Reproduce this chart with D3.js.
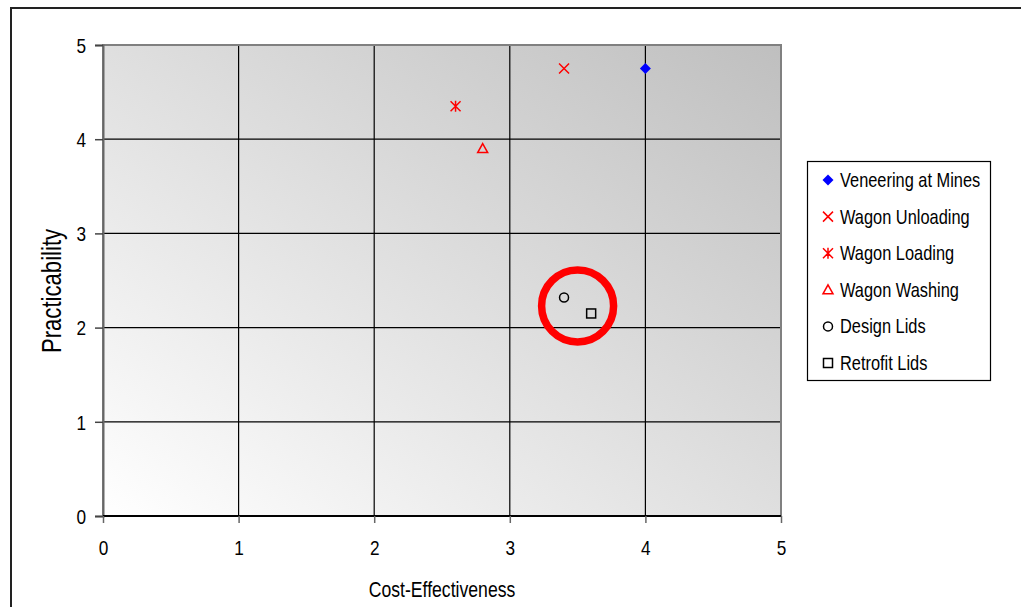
<!DOCTYPE html>
<html><head><meta charset="utf-8">
<script src="https://cdn.jsdelivr.net/npm/d3@7"></script>
<style>body{margin:0;background:#fff}svg{display:block}text{font-family:"Liberation Sans Narrow","Liberation Sans",Arial,sans-serif;fill:#000}</style>
</head><body><svg id="c" width="1021" height="607"></svg>
<script>
const seriesNames = ["Veneering at Mines","Wagon Unloading","Wagon Loading","Wagon Washing","Design Lids","Retrofit Lids"];
const costEffectiveness = [4.0, 3.4, 2.6, 2.8, 3.4, 3.6];
const practicability = [4.75, 4.75, 4.35, 3.9, 2.32, 2.15];
const xTicks = [0,1,2,3,4,5];
const yTicks = [0,1,2,3,4,5];
const highlight = {x: 3.5, y: 2.23};

const NS = 0.82; // narrow horizontal scale
const svg = d3.select("#c");
svg.append("rect").attr("x",11).attr("y",8).attr("width",1030).attr("height",620)
  .attr("fill","#fff").attr("stroke","#222").attr("stroke-width",2);

const x = d3.scaleLinear().domain([0,5]).range([103,781]);
const y = d3.scaleLinear().domain([0,5]).range([516,45]);

const defs = svg.append("defs");
const g = defs.append("linearGradient").attr("id","bg").attr("x1","0").attr("y1","1").attr("x2","1").attr("y2","0");
g.append("stop").attr("offset","0").attr("stop-color","#ffffff");
g.append("stop").attr("offset","1").attr("stop-color","#bfbfbf");

svg.append("rect").attr("x",x(0)).attr("y",y(5)).attr("width",x(5)-x(0)).attr("height",y(0)-y(5)).attr("fill","url(#bg)");

svg.append("g").selectAll("line").data(xTicks.filter(d=>d>0&&d<5)).join("line")
  .attr("x1",d=>x(d)).attr("x2",d=>x(d)).attr("y1",y(5)).attr("y2",y(0)).attr("stroke","#000").attr("stroke-width",1.2);
svg.append("g").selectAll("line").data(yTicks.filter(d=>d>0&&d<5)).join("line")
  .attr("y1",d=>y(d)).attr("y2",d=>y(d)).attr("x1",x(0)).attr("x2",x(5)).attr("stroke","#000").attr("stroke-width",1.2);
svg.append("rect").attr("x",x(0)).attr("y",y(5)).attr("width",x(5)-x(0)).attr("height",y(0)-y(5))
  .attr("fill","none").attr("stroke","#808080").attr("stroke-width",2);

const yAxis = svg.append("g").attr("transform",`translate(${x(0)},0)`)
  .call(d3.axisLeft(y).tickValues(yTicks).tickSize(8).tickPadding(9).tickFormat(d3.format("d")));
yAxis.select(".domain").attr("stroke","#666").attr("stroke-width",2);
yAxis.selectAll(".tick line").attr("stroke","#444").attr("stroke-width",1.5);
yAxis.selectAll("text").style("font-size","21px").attr("dy","0.35em")
  .attr("x",-17/NS).attr("transform",`scale(${NS},1)`);

const xAxis = svg.append("g").attr("transform",`translate(0,${y(0)})`)
  .call(d3.axisBottom(x).tickValues(xTicks).tickSize(7).tickPadding(17).tickFormat(d3.format("d")));
xAxis.select(".domain").attr("stroke","#000").attr("stroke-width",2).attr("d",`M${x(0)},0H${x(5)}`);
xAxis.selectAll(".tick line").attr("stroke","#666").attr("stroke-width",1.5);
xAxis.selectAll("text").style("font-size","21px").attr("transform",`scale(${NS},1)`);

svg.append("text").attr("transform",`translate(61,291) rotate(-90) scale(${NS},1)`)
  .attr("text-anchor","middle").style("font-size","27px").text("Practicability");
svg.append("text").attr("transform",`translate(${(x(0)+x(5))/2},597) scale(${NS},1)`).attr("text-anchor","middle")
  .style("font-size","21.5px").text("Cost-Effectiveness");

function marker(sel, i, cx, cy){
  const r = 5;
  if(i===0){ sel.append("path").attr("d",`M${cx},${cy-5.5}L${cx+5.5},${cy}L${cx},${cy+5.5}L${cx-5.5},${cy}Z`).attr("fill","#0000ff"); }
  else if(i===1){ sel.append("path").attr("d",`M${cx-r},${cy-r}L${cx+r},${cy+r}M${cx-r},${cy+r}L${cx+r},${cy-r}`).attr("stroke","#ff0000").attr("stroke-width",1.5).attr("fill","none"); }
  else if(i===2){ sel.append("path").attr("d",`M${cx-r},${cy-r}L${cx+r},${cy+r}M${cx-r},${cy+r}L${cx+r},${cy-r}M${cx},${cy-r-0.5}L${cx},${cy+r+0.5}`).attr("stroke","#ff0000").attr("stroke-width",1.5).attr("fill","none"); }
  else if(i===3){ sel.append("path").attr("d",`M${cx},${cy-5}L${cx+5},${cy+4}L${cx-5},${cy+4}Z`).attr("stroke","#ff0000").attr("stroke-width",1.5).attr("fill","none"); }
  else if(i===4){ sel.append("circle").attr("cx",cx).attr("cy",cy).attr("r",4.5).attr("stroke","#000").attr("stroke-width",1.5).attr("fill","none"); }
  else { sel.append("rect").attr("x",cx-4.5).attr("y",cy-4.5).attr("width",9).attr("height",9).attr("stroke","#000").attr("stroke-width",1.5).attr("fill","none"); }
}
const pts = svg.append("g");
seriesNames.forEach((n,i)=>marker(pts,i,x(costEffectiveness[i]),y(practicability[i])));

svg.append("circle").attr("cx",x(highlight.x)).attr("cy",y(highlight.y)).attr("r",36)
  .attr("fill","none").attr("stroke","#ff0000").attr("stroke-width",7.5);

const lg = svg.append("g");
lg.append("rect").attr("x",807.5).attr("y",161.5).attr("width",183).attr("height",219).attr("fill","#fff").attr("stroke","#000").attr("stroke-width",1.2);
seriesNames.forEach((n,i)=>{
  const cy = 180 + i*36.6;
  marker(lg,i,828,cy);
  lg.append("text").attr("transform",`translate(840,${cy}) scale(${NS},1)`).attr("dy","0.35em").style("font-size","20px").text(n);
});
</script></body></html>
